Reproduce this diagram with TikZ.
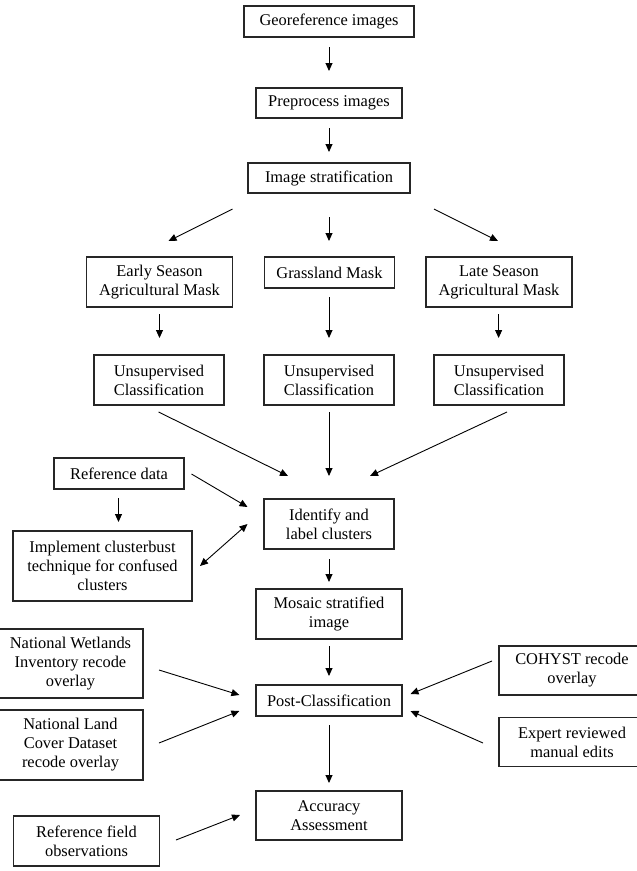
\documentclass[tikz,border=0pt]{standalone}
\usepackage{fontspec}
\setmainfont{Liberation Serif}
\usetikzlibrary{arrows.meta}
\begin{document}
\begin{tikzpicture}[x=1pt,y=-1pt,
  box/.style={draw=black!85,line width=1.1pt,inner sep=0pt,align=center,
    font=\fontsize{16.4}{19}\selectfont},
  arr/.style={line width=0.9pt,-{Triangle[length=8pt,width=7pt]}},
  darr/.style={line width=0.9pt,{Triangle[length=8pt,width=7pt]}-{Triangle[length=8pt,width=7pt]}}]
\useasboundingbox[fill=white] (0,0) rectangle (637,871);
% boxes
\node[box,minimum width=170pt,minimum height=31pt] (geo) at (329,21.5) {Georeference images};
\node[box,minimum width=146pt,minimum height=30pt] (pre) at (329,103) {Preprocess images};
\node[box,minimum width=162pt,minimum height=30pt] (strat) at (329,178) {Image stratification};
\node[box,minimum width=146pt,minimum height=50pt] (early) at (159.5,282) {Early Season\\Agricultural Mask};
\node[box,minimum width=130pt,minimum height=31pt] (grass) at (329.5,272.5) {Grassland Mask};
\node[box,minimum width=146pt,minimum height=50pt] (late) at (499,282) {Late Season\\Agricultural Mask};
\node[box,minimum width=130pt,minimum height=50pt] (uns1) at (159,380) {Unsupervised\\Classification};
\node[box,minimum width=130pt,minimum height=50pt] (uns2) at (329,380) {Unsupervised\\Classification};
\node[box,minimum width=130pt,minimum height=50pt] (uns3) at (499,380) {Unsupervised\\Classification};
\node[box,minimum width=130pt,minimum height=31pt] (refdata) at (119,473.5) {Reference data};
\node[box,minimum width=130pt,minimum height=50pt] (ident) at (329,524) {Identify and\\label clusters};
\node[box,minimum width=179pt,minimum height=70pt] (impl) at (102.5,566) {Implement clusterbust\\technique for confused\\clusters};
\node[box,minimum width=146pt,minimum height=50pt] (mosaic) at (329,614) {Mosaic stratified\\image};
\node[box,minimum width=145pt,minimum height=69pt] (nwi) at (70.5,663.5) {National Wetlands\\Inventory recode\\overlay};
\node[box,minimum width=145pt,minimum height=70pt] (nlcd) at (70.5,745) {National Land\\Cover Dataset\\recode overlay};
\node[box,minimum width=146pt,minimum height=31pt] (post) at (329,700.5) {Post-Classification};
\node[box,minimum width=146pt,minimum height=49pt] (cohyst) at (572,670.5) {COHYST recode\\overlay};
\node[box,minimum width=146pt,minimum height=49pt] (expert) at (572,742) {Expert reviewed\\manual edits};
\node[box,minimum width=146pt,minimum height=49pt] (acc) at (329,815.5) {Accuracy\\Assessment};
\node[box,minimum width=146pt,minimum height=50pt] (reffield) at (86.5,841) {Reference field\\observations};
% arrow end points
\coordinate (a1s) at (329,47);   \coordinate (a1e) at (329,71);
\coordinate (a2s) at (329,128);  \coordinate (a2e) at (329,152);
\coordinate (a3s) at (232.5,209);\coordinate (a3e) at (168.5,241);
\coordinate (a4s) at (329,217);  \coordinate (a4e) at (329,241);
\coordinate (a5s) at (434,209);  \coordinate (a5e) at (498,241);
\coordinate (a6s) at (159.5,314);\coordinate (a6e) at (159.5,338);
\coordinate (a7s) at (329,297);  \coordinate (a7e) at (329,338);
\coordinate (a8s) at (498.6,314);\coordinate (a8e) at (498.6,338);
\coordinate (a9s) at (158.6,412);\coordinate (a9e) at (288,476);
\coordinate (a10s) at (329,412); \coordinate (a10e) at (329,476);
\coordinate (a11s) at (507,412); \coordinate (a11e) at (370,476);
\coordinate (a12s) at (191.5,474);\coordinate (a12e) at (247.5,507);
\coordinate (a13s) at (118.5,498);\coordinate (a13e) at (118.5,522);
\coordinate (a14s) at (247.5,524);\coordinate (a14e) at (200,566);
\coordinate (a15s) at (329,559); \coordinate (a15e) at (329,582);
\coordinate (a16s) at (329,646); \coordinate (a16e) at (329,676);
\coordinate (a17s) at (159,670); \coordinate (a17e) at (239.4,695);
\coordinate (a18s) at (159,743); \coordinate (a18e) at (239.4,711);
\coordinate (a19s) at (492,661); \coordinate (a19e) at (410.5,694);
\coordinate (a20s) at (483,743); \coordinate (a20e) at (410.5,711);
\coordinate (a21s) at (329,725); \coordinate (a21e) at (329,783);
\coordinate (a22s) at (176,840); \coordinate (a22e) at (240,815);
% arrows
\foreach \i in {1,...,13,15,16,17,18,19,20,21,22} {\draw[arr] (a\i s) -- (a\i e);}
\draw[darr] (a14s) -- (a14e);
\end{tikzpicture}
\end{document}
